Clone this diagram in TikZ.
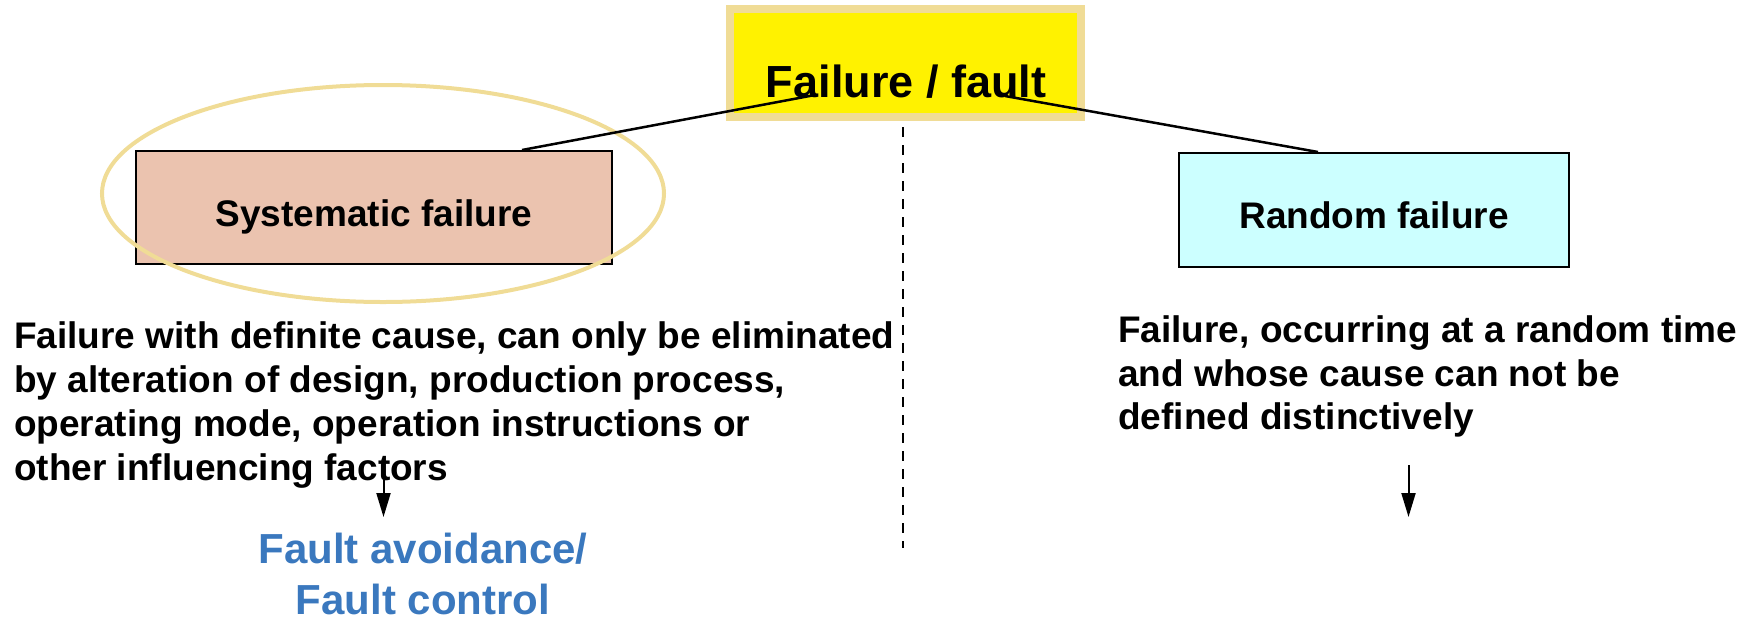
\documentclass[tikz,border=0pt]{standalone}
\usepackage{fontspec}
\setmainfont{Liberation Sans}
\usetikzlibrary{arrows.meta,shapes.geometric}
\definecolor{tanc}{RGB}{240,220,150}
\definecolor{sysfill}{RGB}{235,195,175}
\definecolor{rndfill}{RGB}{204,255,255}
\definecolor{bluet}{RGB}{58,120,190}
\tikzset{
  txt/.style={inner sep=0pt, font=\fontsize{37}{44}\selectfont\bfseries},
  boxst/.style={draw=black, line width=2pt, inner sep=0pt},
  conn/.style={draw=black, line width=2.5pt},
  arr/.style={draw=black, line width=2pt, -{Triangle[width=14pt,length=24pt]}},
  bluetxt/.style={inner sep=0pt, anchor=base, text=bluet, font=\fontsize{42}{52}\selectfont\bfseries},
}
\begin{document}
\begin{tikzpicture}[x=1pt,y=-1pt]
\useasboundingbox (0,0) rectangle (1760,619);
% top box
\node[draw=tanc, line width=8pt, fill=yellow, minimum width=351pt, minimum height=108pt, inner sep=0pt] (top) at (905.5,63) {};
\node[inner sep=0pt, anchor=base, font=\fontsize{45}{54}\selectfont\bfseries] (toptxt) at (906,97) {Failure / fault};
% boxes
\node[boxst, fill=sysfill, minimum width=476pt, minimum height=113pt] (sys) at (374,207.5) {};
\node[txt, anchor=base] (systxt) at (374,226) {Systematic failure};
\node[boxst, fill=rndfill, minimum width=390pt, minimum height=114pt] (rnd) at (1374,210) {};
\node[txt, anchor=base] (rndtxt) at (1374,228) {Random failure};
% ellipse
\node[draw=tanc, line width=4pt, ellipse, minimum width=562pt, minimum height=217pt, inner sep=0pt] (ell) at (383,193.5) {};
% connectors
\coordinate (ta) at (815,95);
\coordinate (tb) at (1005,96);
\coordinate (sa) at (522,150);
\coordinate (rb) at (1318,152);
\draw[conn] (ta) -- (sa);
\draw[conn] (tb) -- (rb);
% dashed divider
\coordinate (d1) at (903,127);
\coordinate (d2) at (903,548);
\draw[black, line width=2.5pt, dash pattern=on 10pt off 8pt] (d1) -- (d2);
% left paragraph
\node[txt, anchor=base west] (l1) at (14,348) {Failure with definite cause, can only be eliminated};
\node[txt, anchor=base west] (l2) at (14,392) {by alteration of design, production process,};
\node[txt, anchor=base west] (l3) at (14,436) {operating mode, operation instructions or};
\node[txt, anchor=base west] (l4) at (14,480) {other influencing factors};
% right paragraph
\node[txt, anchor=base west] (r1) at (1118,342) {Failure, occurring at a random time};
\node[txt, anchor=base west] (r2) at (1118,386) {and whose cause can not be};
\node[txt, anchor=base west] (r3) at (1118,429) {defined distinctively};
% blue conclusion
\node[bluetxt] (b1) at (423,563) {Fault avoidance/};
\node[bluetxt, text depth=0pt] (b2) at (423,614) {Fault control};
% arrows
\coordinate (la) at (383.5,477);
\coordinate (lb) at (383.5,517);
\coordinate (ra) at (1408.5,465);
\coordinate (rb2) at (1408.5,517);
\draw[arr] (la) -- (lb);
\draw[arr] (ra) -- (rb2);
\end{tikzpicture}
\end{document}
